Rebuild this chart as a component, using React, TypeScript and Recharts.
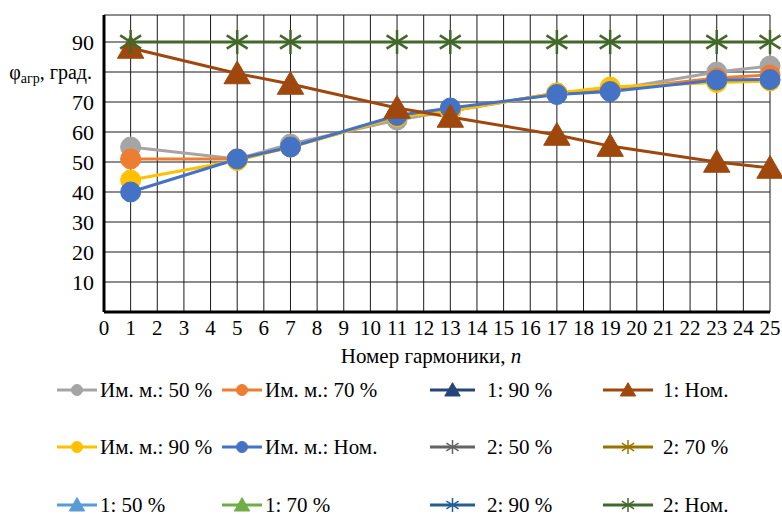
import { LineChart, Line, XAxis, YAxis, CartesianGrid } from "recharts";

// harmonic numbers where values were measured
const harmonics = [1, 5, 7, 11, 13, 17, 19, 23, 25];

const im50 = [55, 51, 56, 64, 67, 73, 74, 80, 82];
const im70 = [51, 51, 55, 65, 67, 73, 74, 78, 79];
const im90 = [44, 50.5, 55, 65, 67, 73, 75, 76.5, 77];
const imNom = [40, 51, 55, 65.5, 68, 72.5, 73.5, 77.3, 77.5];
const s1Nom = [88, 79.5, 76, 68, 65, 59, 55.3, 50, 48];
const s2Nom = [90, 90, 90, 90, 90, 90, 90, 90, 90];

const xTicks = [
  0, 1, 2, 3, 4, 5, 6, 7, 8, 9, 10, 11, 12, 13, 14, 15, 16, 17, 18, 19, 20, 21,
  22, 23, 24, 25,
];
const yTicks = [0, 10, 20, 30, 40, 50, 60, 70, 80, 90];

type Series = {
  key: string;
  name: string;
  color: string;
  marker: "circle" | "triangle" | "star";
  values: number[] | null;
};

// legend order (row by row); values null = not visible in the plotted range
const series: Series[] = [
  { key: "im50", name: "Им. м.: 50 %", color: "#A5A5A5", marker: "circle", values: im50 },
  { key: "im70", name: "Им. м.: 70 %", color: "#ED7D31", marker: "circle", values: im70 },
  { key: "s1_90", name: "1: 90 %", color: "#264478", marker: "triangle", values: null },
  { key: "s1Nom", name: "1: Ном.", color: "#9E480E", marker: "triangle", values: s1Nom },
  { key: "im90", name: "Им. м.: 90 %", color: "#FFC000", marker: "circle", values: im90 },
  { key: "imNom", name: "Им. м.: Ном.", color: "#4472C4", marker: "circle", values: imNom },
  { key: "s2_50", name: "2: 50 %", color: "#636363", marker: "star", values: null },
  { key: "s2_70", name: "2: 70 %", color: "#997300", marker: "star", values: null },
  { key: "s1_50", name: "1: 50 %", color: "#5B9BD5", marker: "triangle", values: null },
  { key: "s1_70", name: "1: 70 %", color: "#70AD47", marker: "triangle", values: null },
  { key: "s2_90", name: "2: 90 %", color: "#255E91", marker: "star", values: null },
  { key: "s2Nom", name: "2: Ном.", color: "#43682B", marker: "star", values: s2Nom },
];

// drawing order (as in the source chart)
const drawOrder = ["im50", "im70", "im90", "imNom", "s1Nom", "s2Nom"];

const font = '"Liberation Serif", "Times New Roman", serif';

function markerShape(kind: string, color: string, cx: number, cy: number, s: number, sw = 2.5) {
  if (kind === "circle") {
    return <circle cx={cx} cy={cy} r={s} fill={color} stroke={color} strokeWidth={1} />;
  }
  if (kind === "triangle") {
    const h = s * 1.9;
    const w = s * 2.2;
    return (
      <polygon
        points={`${cx},${cy - h * 0.55} ${cx + w / 2},${cy + h * 0.45} ${cx - w / 2},${cy + h * 0.45}`}
        fill={color}
        stroke={color}
      />
    );
  }
  const a = s;
  const d = s * 0.87;
  return (
    <g stroke={color} strokeWidth={sw}>
      <line x1={cx} y1={cy - a} x2={cx} y2={cy + a} />
      <line x1={cx - d} y1={cy - a * 0.55} x2={cx + d} y2={cy + a * 0.55} />
      <line x1={cx - d} y1={cy + a * 0.55} x2={cx + d} y2={cy - a * 0.55} />
    </g>
  );
}

const makeDot = (kind: string, color: string) => (props: any) => {
  const { cx, cy, index } = props;
  if (cx == null || cy == null) return <g key={index} />;
  return <g key={index}>{markerShape(kind, color, cx, cy, kind === "circle" ? 10 : 12)}</g>;
};

const YTick = (props: any) => {
  const { x, y, payload } = props;
  if (payload.value === 0) return <g />;
  if (payload.value === 80) {
    return (
      <text x={x - 4} y={y} dy="0.35em" textAnchor="end" fontSize={20} fill="#000" fontFamily={font}>
        φ<tspan fontSize={14} dy={4}>агр</tspan>
        <tspan dy={-4}>, град.</tspan>
      </text>
    );
  }
  return (
    <text x={x - 2} y={y} dy="0.35em" textAnchor="end" fontSize={22} fill="#000" fontFamily={font}>
      {payload.value}
    </text>
  );
};

const XTitle = (props: any) => {
  const vb = props.viewBox || {};
  return (
    <text
      x={vb.x + vb.width / 2 - 6}
      y={vb.y + 51}
      textAnchor="middle"
      fontSize={21}
      fill="#000"
      fontFamily={font}
    >
      Номер гармоники, <tspan fontStyle="italic">n</tspan>
    </text>
  );
};

// legend layout (columns / rows)
const colLeft = [57, 222, 430, 603];
const colIcon = [40, 40, 45, 50];
const colGap = [3, 3, 12, 10];
const rowY = [390, 447, 505];

function LegendIcon({ s, w }: { s: Series; w: number }) {
  return (
    <svg width={w} height={20} style={{ display: "block" }}>
      <line x1={0} y1={10} x2={w} y2={10} stroke={s.color} strokeWidth={3} />
      {markerShape(s.marker, s.color, w / 2, 10, s.marker === "circle" ? 5.5 : 7, 1.5)}
    </svg>
  );
}

export default function App() {
  const data = harmonics.map((n, i) => {
    const row: Record<string, number> = { n };
    series.forEach((s) => {
      if (s.values) row[s.key] = s.values[i];
    });
    return row;
  });

  return (
    <div
      style={{
        position: "absolute",
        left: 0,
        top: 0,
        width: 782,
        height: 515,
        background: "#fff",
        fontFamily: font,
        overflow: "hidden",
      }}
    >
      <LineChart
        width={782}
        height={515}
        data={data}
        margin={{ top: 15, right: 12, bottom: 143, left: 0 }}
      >
        <CartesianGrid stroke="#1a1a1a" strokeWidth={1} />
        <XAxis
          dataKey="n"
          type="number"
          domain={[0, 25]}
          ticks={xTicks}
          interval={0}
          tickLine={false}
          axisLine={{ stroke: "#000", strokeWidth: 3 }}
          tick={{ fill: "#000", fontSize: 21, fontFamily: font }}
          height={60}
          label={<XTitle />}
        />
        <YAxis
          type="number"
          domain={[0, 99]}
          ticks={yTicks}
          interval={0}
          width={104}
          tickLine={false}
          axisLine={{ stroke: "#000", strokeWidth: 3 }}
          tick={<YTick />}
        />
        {drawOrder.map((k) => {
          const s = series.find((x) => x.key === k)!;
          return (
            <Line
              key={k}
              dataKey={k}
              name={s.name}
              type="linear"
              stroke={s.color}
              strokeWidth={3}
              dot={makeDot(s.marker, s.color)}
              activeDot={false}
              isAnimationActive={false}
            />
          );
        })}
      </LineChart>
      {series.map((s, i) => {
        const col = i % 4;
        const row = Math.floor(i / 4);
        return (
          <div
            key={s.key}
            style={{
              position: "absolute",
              left: colLeft[col],
              top: rowY[row] - 13,
              height: 26,
              display: "flex",
              alignItems: "center",
              whiteSpace: "nowrap",
              fontSize: 21,
              color: "#000",
            }}
          >
            <LegendIcon s={s} w={colIcon[col]} />
            <span style={{ marginLeft: colGap[col] }}>{s.name}</span>
          </div>
        );
      })}
    </div>
  );
}
